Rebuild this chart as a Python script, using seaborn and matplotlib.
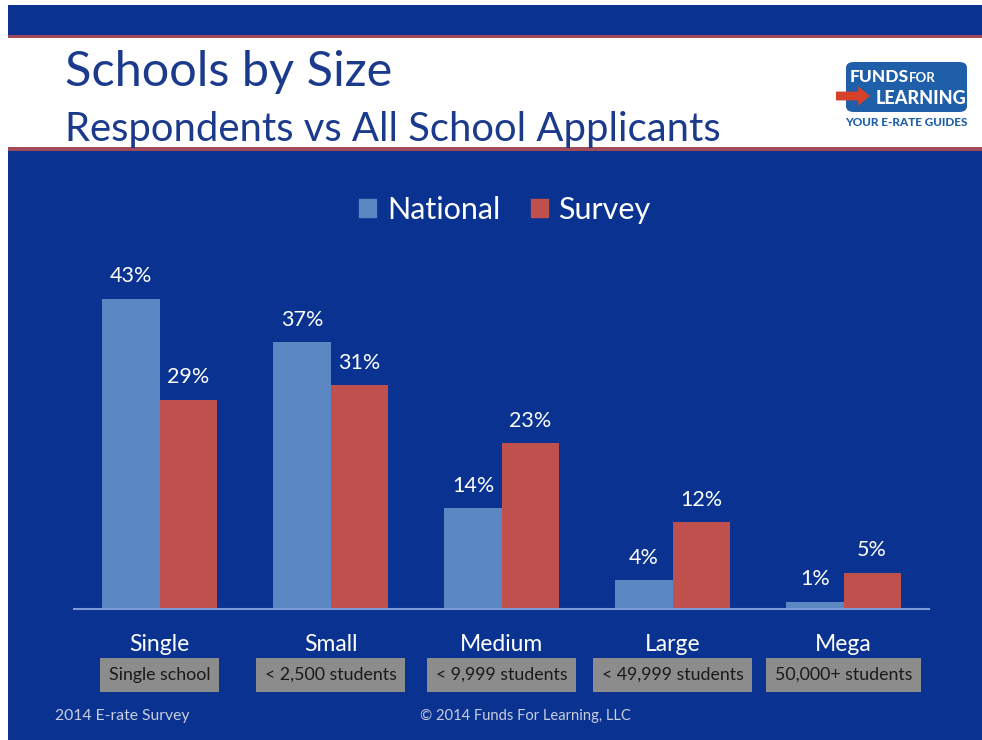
import matplotlib
matplotlib.use("Agg")
import matplotlib.pyplot as plt
from matplotlib.patches import Rectangle, FancyBboxPatch, FancyArrow
import seaborn as sns
import pandas as pd

# ---- data ----
categories = ["Single", "Small", "Medium", "Large", "Mega"]
size_labels = ["Single school", "< 2,500 students", "< 9,999 students",
               "< 49,999 students", "50,000+ students"]
national = [43, 37, 14, 4, 1]
survey = [29, 31, 23, 12, 5]
series_names = ["National", "Survey"]

W, H = 982, 740
BG = "#0a3391"
NAT_C = "#5b87c2"
SUR_C = "#c0504d"
TITLE_C = "#1c3a8c"
FONT = ["Lato", "DejaVu Sans"]

sns.set_theme(style="white")
plt.rcParams["font.family"] = FONT

df = pd.DataFrame({
    "cat": categories * 2,
    "val": national + survey,
    "series": [series_names[0]] * len(categories) + [series_names[1]] * len(categories),
})

fig = plt.figure(figsize=(W / 100, H / 100), dpi=100)
fig.patch.set_facecolor("white")

def fx(x):
    return x / W

def fy(y):
    return 1 - y / H

def rect(x0, y0, x1, y1, color, z=0):
    fig.add_artist(Rectangle((fx(x0), fy(y1)), fx(x1) - fx(x0), fy(y0) - fy(y1),
                             transform=fig.transFigure, color=color, zorder=z, lw=0))

# slide background pieces
rect(8, 5, W, H, BG, z=-10)
rect(8, 35, W, 38, "#a04a5a", z=-9)
rect(8, 38, W, 147, "white", z=-9)
rect(8, 147, W, 151, "#a04a5a", z=-9)

# titles
fig.text(fx(65), fy(72), "Schools by Size", fontsize=35, color=TITLE_C,
         va="center", ha="left")
fig.text(fx(65), fy(129), "Respondents vs All School Applicants", fontsize=28.8,
         color=TITLE_C, va="center", ha="left")

# logo
fig.add_artist(FancyBboxPatch((fx(846), fy(112)), fx(967) - fx(846), fy(62) - fy(112),
                              boxstyle="round,pad=0,rounding_size=0.008",
                              transform=fig.transFigure, color="#1f5ea8", lw=0, zorder=2))
fig.text(fx(850), fy(77), "FUNDS", fontsize=12.5, color="white", fontweight="black",
         ha="left", va="center", zorder=3)
fig.text(fx(909), fy(78), "FOR", fontsize=9.5, color="white", fontweight="bold",
         ha="left", va="center", zorder=3)
fig.text(fx(966), fy(99), "LEARNING", fontsize=13, color="white", fontweight="black",
         ha="right", va="center", zorder=3)
fig.add_artist(FancyArrow(fx(836), fy(96), fx(870) - fx(836), 0, width=0.012,
                          head_width=0.026, head_length=0.012, length_includes_head=True,
                          transform=fig.transFigure, color="#d8402a", lw=0, zorder=4))
fig.text(fx(906), fy(123), "YOUR E-RATE GUIDES", fontsize=8.5, color="#1f5ea8",
         fontweight="black", ha="center", va="center")

# chart axes
ax = fig.add_axes([fx(74), fy(609), fx(929) - fx(74), fy(248.5) - fy(609)])
ax.set_facecolor("none")
sns.barplot(data=df, x="cat", y="val", hue="series", order=categories,
            hue_order=series_names, palette=[NAT_C, SUR_C], width=0.667,
            gap=0, saturation=1, ax=ax, legend=False, linewidth=0)
ax.set_xlim(-0.5, 4.5)
ax.set_ylim(0, 50)
for s in ["top", "right", "left"]:
    ax.spines[s].set_visible(False)
ax.spines["bottom"].set_color("#7b9ad6")
ax.spines["bottom"].set_linewidth(1.5)
ax.set_yticks([])
ax.set_xlabel("")
ax.set_ylabel("")
ax.tick_params(axis="x", length=0, pad=18, labelsize=16.5, labelcolor="white")

for cont in ax.containers:
    ax.bar_label(cont, labels=[f"{v:.0f}%" for v in cont.datavalues],
                 padding=9, color="white", fontsize=15.5)

for i, lab in enumerate(size_labels):
    ax.text(i, -0.183, lab, transform=ax.get_xaxis_transform(), ha="center", va="center",
            fontsize=12.8, color="#1a1a1a",
            bbox=dict(boxstyle="square,pad=0.5", fc="#8c8c8c", ec="none"))

# legend
handles = [Rectangle((0, 0), 1, 1, color=NAT_C), Rectangle((0, 0), 1, 1, color=SUR_C)]
leg = fig.legend(handles, series_names, loc="center", bbox_to_anchor=(fx(505), fy(210)),
                 ncol=2, frameon=False, fontsize=22, handlelength=0.55, handleheight=0.55,
                 handletextpad=0.35, columnspacing=1.0, labelcolor="white")

# footer
fig.text(fx(55), fy(716), "2014 E-rate Survey", fontsize=11.3, color="#c9cde0",
         ha="left", va="center")
fig.text(fx(420), fy(716), "\u00a9 2014 Funds For Learning, LLC", fontsize=10.6,
         color="#c9cde0", ha="left", va="center")

fig.savefig("out.png", dpi=100, facecolor=fig.get_facecolor())
